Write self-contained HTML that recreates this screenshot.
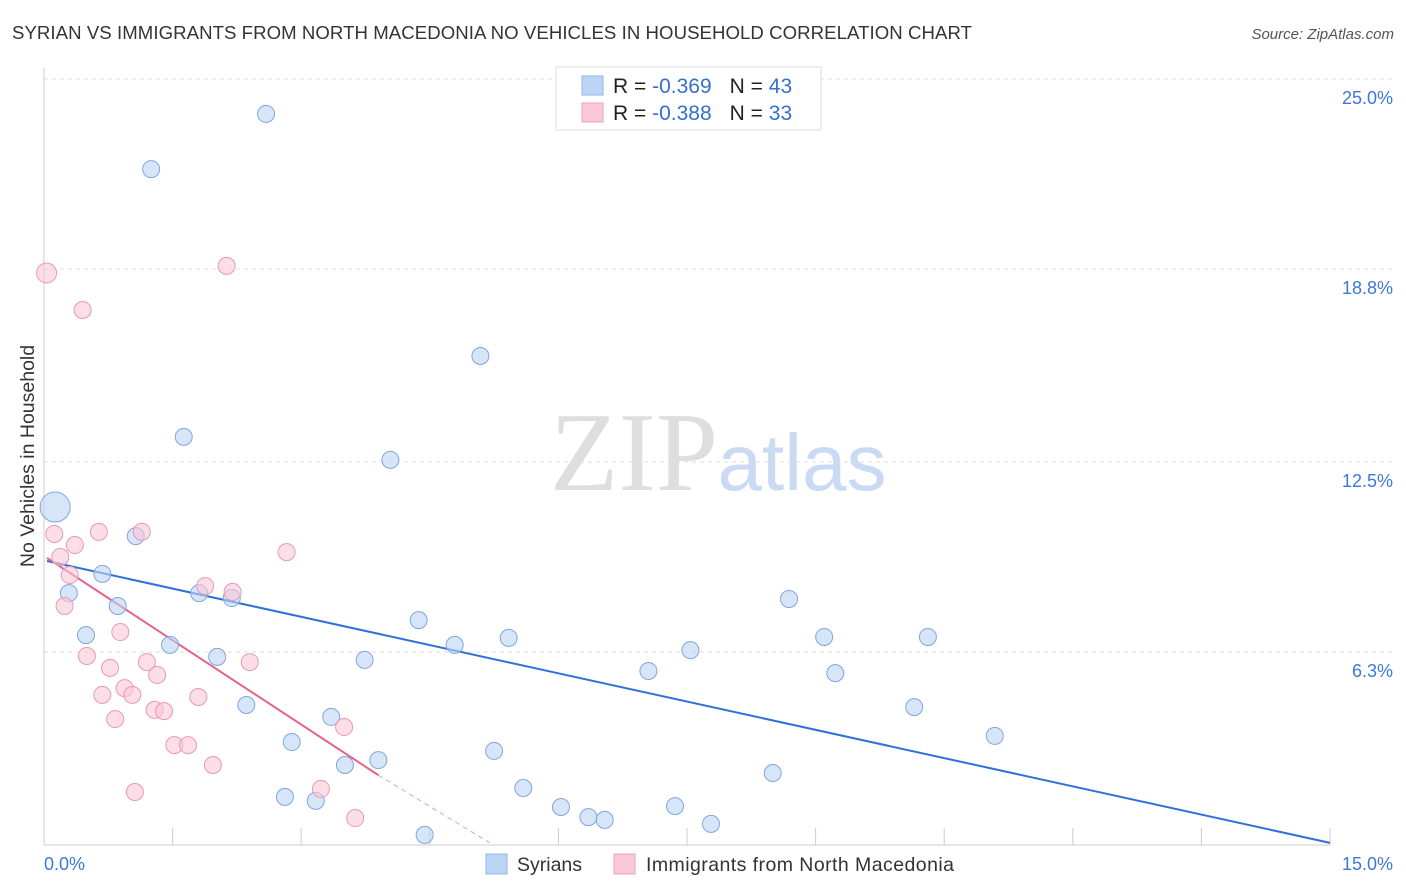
<!DOCTYPE html>
<html><head><meta charset="utf-8"><style>
body{margin:0;background:#fff;font-family:"Liberation Sans",sans-serif;}
#wrap{position:relative;width:1406px;height:892px;overflow:hidden;}
</style></head><body>
<div id="wrap">
<svg id="svg" width="1406" height="892" xmlns="http://www.w3.org/2000/svg">
<text x="12" y="39" font-size="18.6" fill="#333" textLength="960">SYRIAN VS IMMIGRANTS FROM NORTH MACEDONIA NO VEHICLES IN HOUSEHOLD CORRELATION CHART</text>
<text x="1394" y="39" font-size="15" fill="#555" font-style="italic" text-anchor="end">Source: ZipAtlas.com</text>
<text x="634" y="490" font-size="112" fill="#dedede" font-family="Liberation Serif,serif" text-anchor="middle">ZIP</text>
<text x="802" y="490" font-size="80" fill="#c9daf2" text-anchor="middle">atlas</text>
<text transform="translate(34,456) rotate(-90)" font-size="19.5" fill="#333" text-anchor="middle">No Vehicles in Household</text>
<g id="grid"></g><g id="ticks"></g><g id="trend"></g><g id="pts"></g>
<g>
<rect x="556" y="67" width="265" height="63" fill="#fff" stroke="#ddd"/>
<rect x="582" y="76" width="21" height="19" fill="#bcd4f5" stroke="#8fb3e8"/>
<rect x="582" y="103" width="21" height="19" fill="#fac8d6" stroke="#eea3b9"/>
<text x="613" y="93" font-size="21" fill="#222">R = <tspan fill="#3370d0">-0.369</tspan><tspan dx="18">N = </tspan><tspan fill="#3370d0">43</tspan></text>
<text x="613" y="120" font-size="21" fill="#222">R = <tspan fill="#3370d0">-0.388</tspan><tspan dx="18">N = </tspan><tspan fill="#3370d0">33</tspan></text>
</g>
<rect x="486" y="854" width="21" height="20" fill="#bcd4f5" stroke="#8fb3e8"/>
<text x="517" y="871" font-size="19.5" fill="#333">Syrians</text>
<rect x="614" y="854" width="21" height="20" fill="#fac8d6" stroke="#eea3b9"/>
<text x="646" y="871" font-size="19.5" fill="#333" textLength="308">Immigrants from North Macedonia</text>
</svg>
</div>
<script>
const yTicks=[25.0,18.8,12.5,6.3];
const yTickLabels=["25.0%","18.8%","12.5%","6.3%"];
const xTickLabels=["0.0%","15.0%"];
const blueX=[2.59,1.25,5.09,1.63,4.04,0.13,1.07,0.68,0.29,0.86,1.81,2.19,0.49,1.47,2.02,2.36,2.89,3.35,3.74,3.51,3.90,4.37,4.79,5.42,5.25,5.59,6.03,6.35,6.54,4.44,2.81,3.17,7.05,7.54,7.36,7.78,8.50,8.69,9.10,9.23,10.15,10.31,11.09];
const blueY=[23.86,22.06,15.96,13.32,12.57,11.03,10.08,8.85,8.22,7.80,8.22,8.06,6.85,6.53,6.14,4.57,3.36,4.18,6.04,2.61,2.77,7.34,6.53,6.76,3.07,1.86,1.24,0.91,0.82,0.33,1.57,1.44,5.68,6.36,1.27,0.69,2.35,8.03,6.79,5.61,4.50,6.79,3.56];
const pinkX=[0.03,2.13,0.45,0.12,0.64,1.14,0.36,0.19,2.83,0.30,0.24,1.88,2.20,0.89,0.50,0.77,1.20,1.32,2.40,0.94,0.68,1.03,1.80,1.29,1.40,0.83,3.50,1.52,1.68,1.97,1.06,3.23,3.63];
const pinkY=[18.67,18.90,17.46,10.15,10.22,10.22,9.79,9.40,9.56,8.81,7.80,8.45,8.26,6.95,6.17,5.78,5.97,5.55,5.97,5.12,4.90,4.90,4.83,4.41,4.37,4.11,3.85,3.26,3.26,2.61,1.73,1.83,0.88];
const blueTrend=[0.035,9.27,15,0.07];
const pinkTrend=[0.035,9.37,3.9,2.28];
const pinkTrendExt=[3.9,2.28,5.2,0.07];
const NS="http://www.w3.org/2000/svg";
const X0=44,X1=1330,XMAX=15,Y0=845,YTOP=79,YMAX=25;
const sx=v=>X0+v/XMAX*(X1-X0);
const sy=v=>Y0-v/YMAX*(Y0-YTOP);
function mk(tag,attrs,parent){const e=document.createElementNS(NS,tag);for(const k in attrs)e.setAttribute(k,attrs[k]);document.getElementById(parent).appendChild(e);return e;}
yTicks.forEach((t,i)=>{
 const l=mk('line',{x1:X0,x2:1394,y1:sy(t),y2:sy(t),stroke:'#ddd','stroke-dasharray':'4,4'},'grid');
 
 
 const tx=mk('text',{x:1393,y:sy(t)+25,'font-size':18,fill:'#3d78d6','text-anchor':'end'},'ticks');
 tx.textContent=yTickLabels[i];
 
 
});
let ax=mk('line',{x1:X0,x2:X0,y1:68,y2:Y0,stroke:'#ccc'},'grid');


let bx=mk('line',{x1:X0,x2:X1,y1:Y0,y2:Y0,stroke:'#ccc'},'grid');


for(let i=0;i<=10;i++){
 const t=mk('line',{x1:sx(i*1.5),x2:sx(i*1.5),y1:828,y2:845,stroke:'#ccc'},'grid');
 
 
}
[[44,'start'],[1393,'end']].forEach((p,i)=>{
 const tx=mk('text',{x:p[0],y:870,'font-size':18,fill:'#3d78d6','text-anchor':p[1]},'ticks');
 tx.textContent=xTickLabels[i];
 
 
});
function pts(xs,ys,fill,stroke,name,bigIdx,bigR){
 xs.forEach((x,i)=>{
  const c=mk('circle',{cx:sx(x),cy:sy(ys[i]),r:i===bigIdx?bigR:8.5,fill:fill,'fill-opacity':0.6,stroke:stroke,'stroke-width':1},'pts');
  
  
 });
}
pts(blueX,blueY,'#bcd4f5','#7fa6e0','point-syrians',5,15);
pts(pinkX,pinkY,'#fac8d6','#eb98b2','point-macedonia',0,10);
let t1=mk('line',{x1:sx(blueTrend[0]),y1:sy(blueTrend[1]),x2:sx(blueTrend[2]),y2:sy(blueTrend[3]),stroke:'#3070d8','stroke-width':2},'trend');


let t2=mk('line',{x1:sx(pinkTrend[0]),y1:sy(pinkTrend[1]),x2:sx(pinkTrend[2]),y2:sy(pinkTrend[3]),stroke:'#e4628e','stroke-width':2},'trend');


let t3=mk('line',{x1:sx(pinkTrendExt[0]),y1:sy(pinkTrendExt[1]),x2:sx(pinkTrendExt[2]),y2:sy(pinkTrendExt[3]),stroke:'#e4a0b8','stroke-width':1,'stroke-dasharray':'5,4'},'trend');


</script>
</body></html>
